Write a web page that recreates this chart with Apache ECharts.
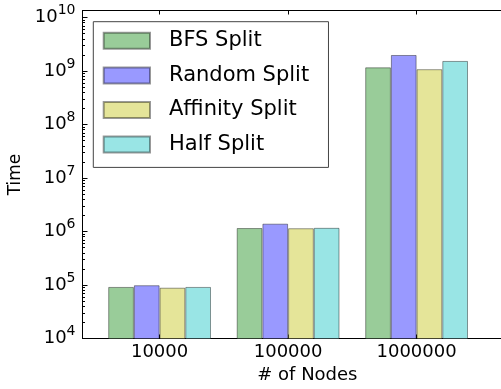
<!DOCTYPE html>
<html><head><meta charset="utf-8">
<script src="https://cdn.jsdelivr.net/npm/echarts@6/dist/echarts.min.js"></script>
<style>html,body{margin:0;padding:0;background:#fff}#c{width:501px;height:389px}</style>
</head><body><div id="c"></div>
<script>
// ---- data ----
const categories = ['10000', '100000', '1000000'];
const seriesNames = ['BFS Split', 'Random Split', 'Affinity Split', 'Half Split'];
const bfsSplit      = [9.2e4, 1.16e6, 1.17e9];
const randomSplit   = [9.9e4, 1.40e6, 1.99e9];
const affinitySplit = [8.9e4, 1.15e6, 1.08e9];
const halfSplit     = [9.2e4, 1.17e6, 1.54e9];
const yTickExponents = [4, 5, 6, 7, 8, 9, 10];
const yMin = 1e4, yMax = 1.35e10;

// ---- style ----
const colors = ['#99cc99', '#9999ff', '#e5e599', '#99e5e5'];
const FONT = 'DejaVu Sans';
const xMin = -0.6, xMax = 2.9, unitPx = 128.5;

const allSeries = [bfsSplit, randomSplit, affinitySplit, halfSplit];
const catIdx = categories.map((c, i) => i);
const minorTicks = [];
yTickExponents.forEach(e => { for (let m = 2; m <= 9; m++) { const v = m * Math.pow(10, e); if (v < yMax) minorTicks.push(v); } });

const chart = echarts.init(document.getElementById('c'), null, {renderer: 'canvas'});
chart.setOption({
  animation: false,
  backgroundColor: '#fff',
  textStyle: {fontFamily: FONT},
  grid: {left: 82.5, top: 10.5, width: (xMax - xMin) * unitPx, height: 328, show: false,
         containLabel: false, outerBoundsMode: 'none'},
  legend: {
    orient: 'vertical', left: 93.3, top: 21.7,
    data: seriesNames, icon: 'rect', selectedMode: false,
    itemWidth: 46.3, itemHeight: 16, itemGap: 13.6,
    padding: [8.6, 19.3, 12.3, 9.4],
    borderColor: '#444', borderWidth: 1, borderRadius: 0, backgroundColor: '#fff',
    textStyle: {fontSize: 21, fontFamily: FONT, color: '#000', lineHeight: 20, padding: [0, 0, 0, 14]}
  },
  xAxis: [{
    type: 'value', min: xMin, max: xMax, position: 'bottom',
    axisLine: {show: true, onZero: false, lineStyle: {color: '#000', width: 1}},
    axisTick: {show: true, inside: true, length: 4, customValues: catIdx, lineStyle: {color: '#000'}},
    axisLabel: {show: true, customValues: catIdx, formatter: v => categories[Math.round(v)], fontSize: 18, fontFamily: FONT, color: '#000', margin: 5},
    splitLine: {show: false},
    name: '# of Nodes', nameLocation: 'middle', nameGap: 27,
    nameTextStyle: {fontSize: 18, fontFamily: FONT, color: '#000'}
  }, {
    type: 'value', min: xMin, max: xMax, position: 'top',
    axisLine: {show: true, onZero: false, lineStyle: {color: '#000', width: 1}},
    axisTick: {show: true, inside: true, length: 4, customValues: catIdx, lineStyle: {color: '#000'}},
    axisLabel: {show: false},
    splitLine: {show: false}
  }],
  yAxis: [{
    type: 'log', logBase: 10, min: yMin, max: yMax, position: 'left',
    axisLine: {show: true, onZero: false, lineStyle: {color: '#000', width: 1}},
    axisTick: {show: true, inside: true, length: 5, lineStyle: {color: '#000'}},
    axisLabel: {
      show: true, margin: 7, color: '#000',
      formatter: v => '{b|10}{s|' + Math.round(Math.log10(v)) + '}',
      rich: {
        b: {fontSize: 18, fontFamily: FONT, color: '#000', lineHeight: 18, verticalAlign: 'bottom'},
        s: {fontSize: 14, fontFamily: FONT, color: '#000', lineHeight: 14, padding: [0, 0, 9, 0], verticalAlign: 'bottom'}
      }
    },
    splitLine: {show: false},
    name: 'Time', nameLocation: 'middle', nameGap: 52,
    nameTextStyle: {fontSize: 17, fontFamily: FONT, color: '#000'}
  }, {
    type: 'log', logBase: 10, min: yMin, max: yMax, position: 'left',
    axisLine: {show: false, onZero: false},
    axisTick: {show: true, inside: true, length: 2.5, customValues: minorTicks, lineStyle: {color: '#000'}},
    axisLabel: {show: false},
    splitLine: {show: false}
  }],
  series: allSeries.map((vals, k) => ({
    type: 'bar', name: seriesNames[k], xAxisIndex: 0, yAxisIndex: 0,
    data: vals.map((v, i) => [catIdx[i], v]),
    barWidth: 0.2 * unitPx, barGap: '0%',
    itemStyle: {color: colors[k], borderColor: 'rgba(0,0,0,0.4)', borderWidth: 1}
  }))
});
</script></body></html>
